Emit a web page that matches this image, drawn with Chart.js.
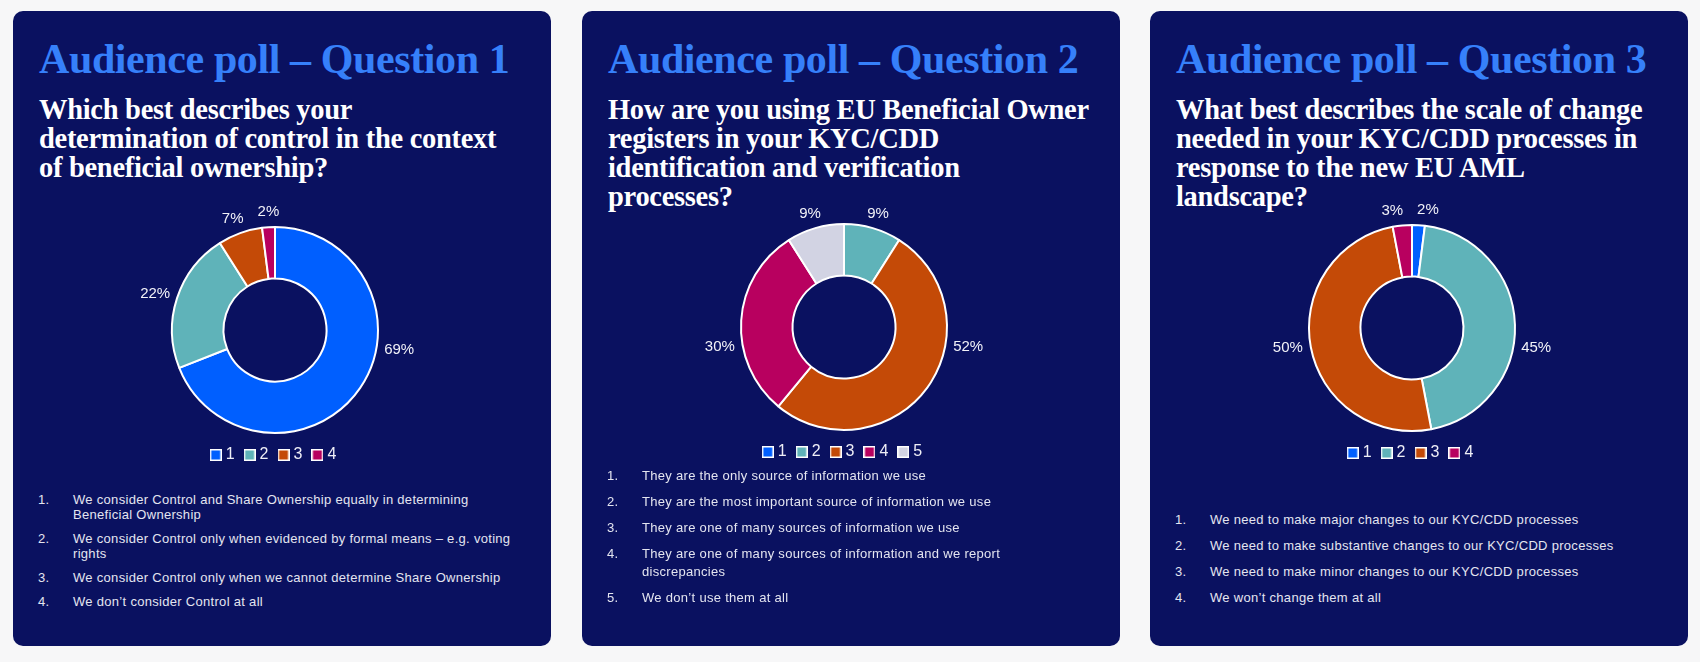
<!DOCTYPE html>
<html><head><meta charset="utf-8">
<script src="https://cdn.jsdelivr.net/npm/chart.js@4/dist/chart.umd.min.js"></script>
<style>
html,body{margin:0;padding:0;background:#f7f7f8;width:1700px;height:662px;overflow:hidden;}
.panel{position:absolute;top:11px;width:538px;height:635px;background:#0a1160;border-radius:10px;}
.title{position:absolute;left:26px;top:28px;margin:0;font:700 42px/41px "Liberation Serif",serif;color:#3680fa;white-space:nowrap;letter-spacing:-0.4px}
.q{position:absolute;left:26px;top:84px;margin:0;font:700 28.5px/29px "Liberation Serif",serif;color:#fff;white-space:nowrap;letter-spacing:-0.3px}
.cw{position:absolute;left:26px;width:472px;height:283px}
ol{position:absolute;left:25px;margin:0;padding:0;list-style:none;font:13px "Liberation Sans",sans-serif;letter-spacing:0.3px;color:#e4e5f0;white-space:nowrap}
li{position:relative;padding-left:35px}
li .n{position:absolute;left:0;top:0}
.l1 li{line-height:15px;margin-bottom:9px}
.l2 li{line-height:18px;margin-bottom:8px}
</style>
</head>
<body>
<div class="panel" style="left:13px">
  <h1 class="title">Audience poll – Question 1</h1>
  <h2 class="q">Which best describes your<br>determination of control in the context<br>of beneficial ownership?</h2>
  <div class="cw" style="top:179px"><canvas id="c1"></canvas></div>
  <ol id="o1" class="l1" style="top:481px"></ol>
</div>
<div class="panel" style="left:582px">
  <h1 class="title">Audience poll – Question 2</h1>
  <h2 class="q">How are you using EU Beneficial Owner<br>registers in your KYC/CDD<br>identification and verification<br>processes?</h2>
  <div class="cw" style="top:176px"><canvas id="c2"></canvas></div>
  <ol id="o2" class="l2" style="top:456px"></ol>
</div>
<div class="panel" style="left:1150px">
  <h1 class="title">Audience poll – Question 3</h1>
  <h2 class="q">What best describes the scale of change<br>needed in your KYC/CDD processes in<br>response to the new EU AML<br>landscape?</h2>
  <div class="cw" style="top:177px"><canvas id="c3"></canvas></div>
  <ol id="o3" class="l2" style="top:500px"></ol>
</div>
<script>
// ---- data ----
const q1Categories = ['1', '2', '3', '4'];
const q1Values = [69, 22, 7, 2];
const q2Categories = ['1', '2', '3', '4', '5'];
const q2Values = [0, 9, 52, 30, 9];
const q3Categories = ['1', '2', '3', '4'];
const q3Values = [2, 45, 50, 3];
const q1Answers = [
  ['We consider Control and Share Ownership equally in determining', 'Beneficial Ownership'],
  ['We consider Control only when evidenced by formal means – e.g. voting', 'rights'],
  ['We consider Control only when we cannot determine Share Ownership'],
  ['We don’t consider Control at all']
];
const q2Answers = [
  ['They are the only source of information we use'],
  ['They are the most important source of information we use'],
  ['They are one of many sources of information we use'],
  ['They are one of many sources of information and we report', 'discrepancies'],
  ['We don’t use them at all']
];
const q3Answers = [
  ['We need to make major changes to our KYC/CDD processes'],
  ['We need to make substantive changes to our KYC/CDD processes'],
  ['We need to make minor changes to our KYC/CDD processes'],
  ['We won’t change them at all']
];
const palette = ['#005fff', '#5fb3b9', '#c44a07', '#b8005f', '#d2d3e3'];

function fillList(id, answers) {
  const ol = document.getElementById(id);
  answers.forEach((lines, i) => {
    const li = document.createElement('li');
    const n = document.createElement('span'); n.className = 'n'; n.textContent = (i + 1) + '.';
    li.appendChild(n);
    lines.forEach((t, k) => { if (k) li.appendChild(document.createElement('br')); li.appendChild(document.createTextNode(t)); });
    ol.appendChild(li);
  });
}
fillList('o1', q1Answers); fillList('o2', q2Answers); fillList('o3', q3Answers);

const boxCache = {};
function boxImg(color) {
  if (boxCache[color]) return boxCache[color];
  const c = document.createElement('canvas'); c.width = 12; c.height = 12;
  const g = c.getContext('2d');
  g.fillStyle = '#ffffff'; g.fillRect(0, 0, 12, 12);
  g.fillStyle = color; g.fillRect(1.5, 1.5, 9, 9);
  return (boxCache[color] = c);
}

const outLabels = {
  id: 'outLabels',
  afterDatasetsDraw(chart) {
    const ctx = chart.ctx;
    const meta = chart.getDatasetMeta(0);
    const vals = chart.data.datasets[0].data;
    ctx.save();
    ctx.font = '15px "Liberation Sans", sans-serif';
    ctx.fillStyle = '#f2f2f8';
    ctx.textAlign = 'center';
    ctx.textBaseline = 'middle';
    const TAU = Math.PI * 2;
    const inside = (s, e, a) => { let d = (a - s) % TAU; if (d < 0) d += TAU; return d <= (e - s); };
    const items = [];
    meta.data.forEach((arc, i) => {
      if (!vals[i]) return;
      const p = arc.getProps(['x', 'y', 'startAngle', 'endAngle', 'outerRadius'], true);
      let a = (p.startAngle + p.endAngle) / 2;
      if ((p.endAngle - p.startAngle) / TAU > 0.25) {
        const right = 0.17, left = Math.PI - 0.17;
        if (inside(p.startAngle, p.endAngle, right)) a = right;
        else if (inside(p.startAngle, p.endAngle, left)) a = left;
      }
      const txt = vals[i] + '%';
      const w = ctx.measureText(txt).width;
      const r = p.outerRadius + 8;
      items.push({
        txt, w, h: 15,
        x: p.x + Math.cos(a) * r + Math.cos(a) * w / 2,
        y: p.y + Math.sin(a) * r + Math.sin(a) * 7
      });
    });
    // simple overlap avoidance: keep a minimum horizontal gap between neighbours
    items.sort((u, v) => u.x - v.x);
    const gap = 14;
    for (let k = 1; k < items.length; k++) {
      const A = items[k - 1], B = items[k];
      if (Math.abs(A.y - B.y) < A.h) {
        const need = (A.w + B.w) / 2 + gap - (B.x - A.x);
        if (need > 0) { A.x -= need / 2; B.x += need / 2; }
      }
    }
    items.forEach(it => ctx.fillText(it.txt, it.x, it.y));
    ctx.restore();
  }
};

function makeChart(id, labels, values, padTop) {
  new Chart(document.getElementById(id), {
    type: 'doughnut',
    data: {
      labels: labels,
      datasets: [{
        data: values,
        backgroundColor: palette.slice(0, labels.length),
        borderColor: '#ffffff',
        borderWidth: 2,
        hoverOffset: 0,
        offset: 0
      }]
    },
    options: {
      responsive: true,
      maintainAspectRatio: false,
      animation: false,
      cutout: '50%',
      layout: { padding: { top: padTop, bottom: 0, left: 0, right: 0 } },
      plugins: {
        tooltip: { enabled: false },
        legend: {
          position: 'bottom',
          labels: {
            usePointStyle: true,
            pointStyleWidth: 4,
            padding: 13,
            color: '#eeeef6',
            font: { family: '"Liberation Sans", sans-serif', size: 16 },
            generateLabels(chart) {
              const ds = chart.data.datasets[0];
              return chart.data.labels.map((t, i) => ({
                text: t,
                pointStyle: boxImg(ds.backgroundColor[i]),
                fillStyle: ds.backgroundColor[i],
                strokeStyle: '#ffffff',
                lineWidth: 0,
                fontColor: '#eeeef6',
                hidden: !chart.getDataVisibility(i),
                index: i
              }));
            }
          }
        }
      }
    },
    plugins: [outLabels]
  });
}
makeChart('c1', q1Categories, q1Values, 36);
makeChart('c2', q2Categories, q2Values, 36);
makeChart('c3', q3Categories, q3Values, 36);
</script>
</body></html>
